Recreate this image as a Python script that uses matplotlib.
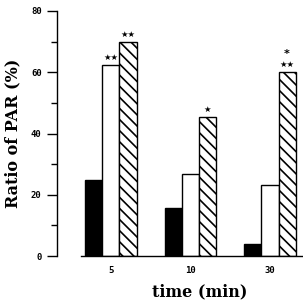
import matplotlib.pyplot as plt
import numpy as np

plt.rcParams['hatch.linewidth'] = 1.2

# data
times = ["5", "10", "30"]
black_vals = [24.8, 15.8, 4.0]
white_vals = [62.4, 26.8, 23.1]
hatch_vals = [70.0, 45.3, 60.1]
# significance marks: (series index, group index, text)
marks = [(1, 0, "★★"), (2, 0, "★★"), (2, 1, "★"), (2, 2, "★★")]

fig = plt.figure(figsize=(3.03, 3.0), dpi=100)
ax = fig.add_axes([57 / 303, 44 / 300, 246 / 303, 245 / 300])

x = np.arange(len(times))
w = 0.214
series = [black_vals, white_vals, hatch_vals]
styles = [dict(color="black"), dict(color="white"), dict(color="white", hatch="\\\\\\")]
for i, (vals, st) in enumerate(zip(series, styles)):
    ax.bar(x + (i - 1) * w, vals, w, edgecolor="black", linewidth=1.0, **st)

for s, g, txt in marks:
    ax.text(x[g] + (s - 1) * w, series[s][g] + 1.0, txt, ha="center", va="bottom",
            fontsize=6, family="DejaVu Sans")
# extra star above the 30 min hatched bar
ax.text(x[2] + w, hatch_vals[2] + 4.3, "*", ha="center", va="bottom",
        fontsize=8, fontweight="bold", family="DejaVu Sans")

ax.set_xlim(-0.679, 2.415)
ax.set_ylim(0, 80)
ax.spines["top"].set_visible(False)
ax.spines["right"].set_visible(False)
ax.spines["left"].set_bounds(0, 80)
ax.spines["bottom"].set_bounds(-0.377, 2.415)
ax.spines["left"].set_linewidth(1.0)
ax.spines["bottom"].set_linewidth(1.0)

ax.set_yticks([0, 20, 40, 60, 80])
ax.set_yticks([10, 30, 50, 70], minor=True)
ax.tick_params(axis="y", which="major", length=7, width=1.0, pad=4)
ax.tick_params(axis="y", which="minor", length=4, width=1.0)
ax.set_xticks(x)
ax.set_xticklabels(times)
ax.tick_params(axis="x", length=0, pad=7)
for lab in ax.get_xticklabels() + ax.get_yticklabels():
    lab.set_fontfamily("DejaVu Sans Mono")
    lab.set_fontweight("bold")
    lab.set_fontsize(6.5)

ax.set_ylabel("Ratio of PAR (%)", family="DejaVu Serif", fontweight="bold", fontsize=11.5)
ax.yaxis.set_label_coords(-0.145, 0.5)
ax.set_xlabel("time (min)", family="DejaVu Serif", fontweight="bold", fontsize=11.5)
ax.xaxis.set_label_coords(0.58, -0.11)

fig.savefig("out.png", dpi=100)
